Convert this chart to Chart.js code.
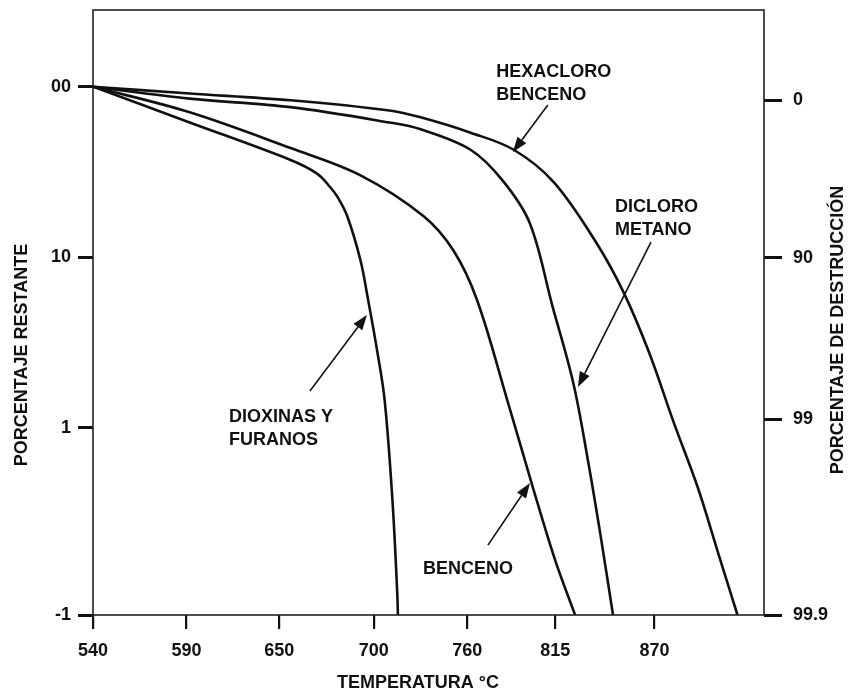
<!DOCTYPE html>
<html>
<head>
<meta charset="utf-8">
<script src="https://cdn.jsdelivr.net/npm/chart.js@4.4.1/dist/chart.umd.min.js"></script>
<style>
    html, body { margin: 0; padding: 0; background: #fff; }
    canvas { display: block; }
</style>
</head>
<body>
<canvas id="grafico" width="848" height="692"></canvas>
<script>

// eje X: temperatura (escala irregular en el original)
const xTickTemps = [540, 590, 650, 700, 760, 815, 870];
const xTickPos = [0, 1, 1.99, 3, 4, 4.94, 6];

// eje Y izquierdo: log10 del porcentaje restante
const yTickVals = [-1, 0, 1, 2];
const yTickLabels = ["-1", "1", "10", "00"];
const yTickPos = [-1.1, 0, 1, 2];

// eje Y derecho: porcentaje de destruccion
const destLabels = ["99.9", "99", "90", "0"];
const destPos = [-1.1, 0.05, 0.995, 1.92];

// curvas (temperatura °C, log10 % restante)
const dioxTemp = [540, 592, 656, 670, 677, 681, 686, 693, 697, 702, 707, 712, 715, 715.5];
const dioxLog = [2.00, 1.79, 1.57, 1.49, 1.41, 1.35, 1.24, 0.98, 0.75, 0.46, 0.16, -0.39, -0.87, -1.00];

const bencTemp = [540, 592, 656, 693, 732, 751, 766, 785, 801, 815, 826];
const bencLog = [2.00, 1.85, 1.64, 1.48, 1.24, 1.04, 0.75, 0.16, -0.32, -0.71, -1.00];

const dicloTemp = [540, 592, 656, 710, 730, 762, 782, 799, 813, 825, 833, 840, 847];
const dicloLog = [2.00, 1.93, 1.88, 1.79, 1.75, 1.63, 1.45, 1.20, 0.72, 0.26, -0.17, -0.57, -1.00];

const hexTemp = [540, 592, 656, 710, 730, 762, 789, 814, 838, 853, 867, 881, 894, 905, 916];
const hexLog = [2.00, 1.96, 1.92, 1.86, 1.82, 1.73, 1.63, 1.44, 1.08, 0.79, 0.44, 0.02, -0.32, -0.66, -1.00];

// etiquetas con flecha (en unidades de los ejes)
const notes = [
    { lines: ["HEXACLORO", "BENCENO"], at: [4.31, 2.057], from: [4.86, 1.892], to: [4.487, 1.617] },
    { lines: ["DICLORO", "METANO"], at: [5.577, 1.265], from: [5.962, 1.088], to: [5.182, 0.238] },
    { lines: ["DIOXINAS Y", "FURANOS"], at: [1.453, 0.032], from: [2.318, 0.214], to: [2.927, 0.660] },
    { lines: ["BENCENO"], at: [3.526, -0.860], from: [4.220, -0.690], to: [4.669, -0.326] }
];

const FONT = "'Liberation Sans', Arial, sans-serif";
const INK = "#111";

// interpolacion lineal por tramos entre marcas del eje
function piecewise(v, vals, pos) {
    let i = 0;
    while (i < vals.length - 2 && v > vals[i + 1]) {
        i++;
    }
    const t = (v - vals[i]) / (vals[i + 1] - vals[i]);
    return pos[i] + t * (pos[i + 1] - pos[i]);
}

function toPoints(temps, logs) {
    return temps.map((t, i) => ({
        x: piecewise(t, xTickTemps, xTickPos),
        y: piecewise(logs[i], yTickVals, yTickPos)
    }));
}

function curve(temps, logs) {
    return {
        data: toPoints(temps, logs),
        borderColor: INK,
        borderWidth: 2.6,
        pointRadius: 0,
        fill: false,
        tension: 0.35
    };
}

function drawArrow(ctx, x1, y1, x2, y2) {
    const ang = Math.atan2(y2 - y1, x2 - x1);
    const len = 15;
    const half = 5.5;
    const bx = x2 - len * Math.cos(ang);
    const by = y2 - len * Math.sin(ang);

    ctx.beginPath();
    ctx.moveTo(x1, y1);
    ctx.lineTo(bx, by);
    ctx.lineWidth = 1.6;
    ctx.strokeStyle = INK;
    ctx.stroke();

    ctx.beginPath();
    ctx.moveTo(x2, y2);
    ctx.lineTo(bx + half * Math.sin(ang), by - half * Math.cos(ang));
    ctx.lineTo(bx - half * Math.sin(ang), by + half * Math.cos(ang));
    ctx.closePath();
    ctx.fillStyle = INK;
    ctx.fill();
}

const extras = {
    id: "extras",
    afterDraw(chart) {
        const ctx = chart.ctx;
        const a = chart.chartArea;
        const sx = chart.scales.x;
        const sy = chart.scales.y;

        ctx.save();

        // marco
        ctx.strokeStyle = "#222";
        ctx.lineWidth = 1.6;
        ctx.strokeRect(a.left, a.top, a.right - a.left, a.bottom - a.top);

        // textos de ejes
        ctx.fillStyle = INK;
        ctx.font = "bold 18px " + FONT;
        ctx.textAlign = "center";
        ctx.textBaseline = "middle";

        ctx.fillText("TEMPERATURA °C", 418, 683);

        ctx.save();
        ctx.translate(22, 355);
        ctx.rotate(-Math.PI / 2);
        ctx.fillText("PORCENTAJE RESTANTE", 0, 0);
        ctx.restore();

        ctx.save();
        ctx.translate(838, 330);
        ctx.rotate(-Math.PI / 2);
        ctx.fillText("PORCENTAJE DE DESTRUCCIÓN", 0, 0);
        ctx.restore();

        // etiquetas
        ctx.textAlign = "left";
        ctx.textBaseline = "alphabetic";

        notes.forEach(n => {
            const tx = sx.getPixelForValue(n.at[0]);
            const ty = sy.getPixelForValue(n.at[1]);

            n.lines.forEach((line, i) => {
                ctx.fillText(line, tx, ty + i * 23);
            });

            drawArrow(
                ctx,
                sx.getPixelForValue(n.from[0]),
                sy.getPixelForValue(n.from[1]),
                sx.getPixelForValue(n.to[0]),
                sy.getPixelForValue(n.to[1])
            );
        });

        ctx.restore();
    }
};

const tickFont = { family: FONT, size: 18, weight: "bold" };

function noPad(s) {
    s.paddingTop = 0;
    s.paddingBottom = 0;
}

new Chart(document.getElementById("grafico"), {

    type: "line",

    data: {
        datasets: [
            curve(dioxTemp, dioxLog),
            curve(bencTemp, bencLog),
            curve(dicloTemp, dicloLog),
            curve(hexTemp, hexLog)
        ]
    },

    options: {
        responsive: false,
        animation: false,
        devicePixelRatio: 1,
        layout: { padding: { top: 10, left: 0, right: 0, bottom: 0 } },
        plugins: {
            legend: { display: false },
            tooltip: { enabled: false }
        },
        scales: {
            x: {
                type: "linear",
                min: 0,
                max: 7.17,
                afterBuildTicks: s => {
                    s.ticks = xTickPos.map(v => ({ value: v }));
                },
                afterFit: s => {
                    s.height = 77;
                    s.paddingLeft = 0;
                    s.paddingRight = 0;
                },
                border: { display: false },
                grid: {
                    drawOnChartArea: false,
                    drawTicks: true,
                    tickLength: 14,
                    lineWidth: 2.2,
                    color: INK
                },
                ticks: {
                    autoSkip: false,
                    maxRotation: 0,
                    padding: 11,
                    color: INK,
                    font: tickFont,
                    callback: (v, i) => xTickTemps[i]
                }
            },
            y: {
                type: "linear",
                position: "left",
                min: -1.1,
                max: 2.45,
                afterBuildTicks: s => {
                    s.ticks = yTickPos.map(v => ({ value: v }));
                },
                afterFit: s => {
                    s.width = 93;
                    noPad(s);
                },
                border: { display: false },
                grid: {
                    drawOnChartArea: false,
                    drawTicks: true,
                    tickLength: 15,
                    lineWidth: 3,
                    color: INK
                },
                ticks: {
                    autoSkip: false,
                    padding: 7,
                    color: INK,
                    font: tickFont,
                    callback: (v, i) => yTickLabels[i]
                }
            },
            y2: {
                type: "linear",
                position: "right",
                min: -1.1,
                max: 2.45,
                afterBuildTicks: s => {
                    s.ticks = destPos.map(v => ({ value: v }));
                },
                afterFit: s => {
                    s.width = 84;
                    noPad(s);
                },
                border: { display: false },
                grid: {
                    drawOnChartArea: false,
                    drawTicks: true,
                    tickLength: 18,
                    lineWidth: 3,
                    color: INK
                },
                ticks: {
                    autoSkip: false,
                    padding: 11,
                    color: INK,
                    font: tickFont,
                    callback: (v, i) => destLabels[i]
                }
            }
        }
    },

    plugins: [extras]
});
</script>
</body>
</html>
